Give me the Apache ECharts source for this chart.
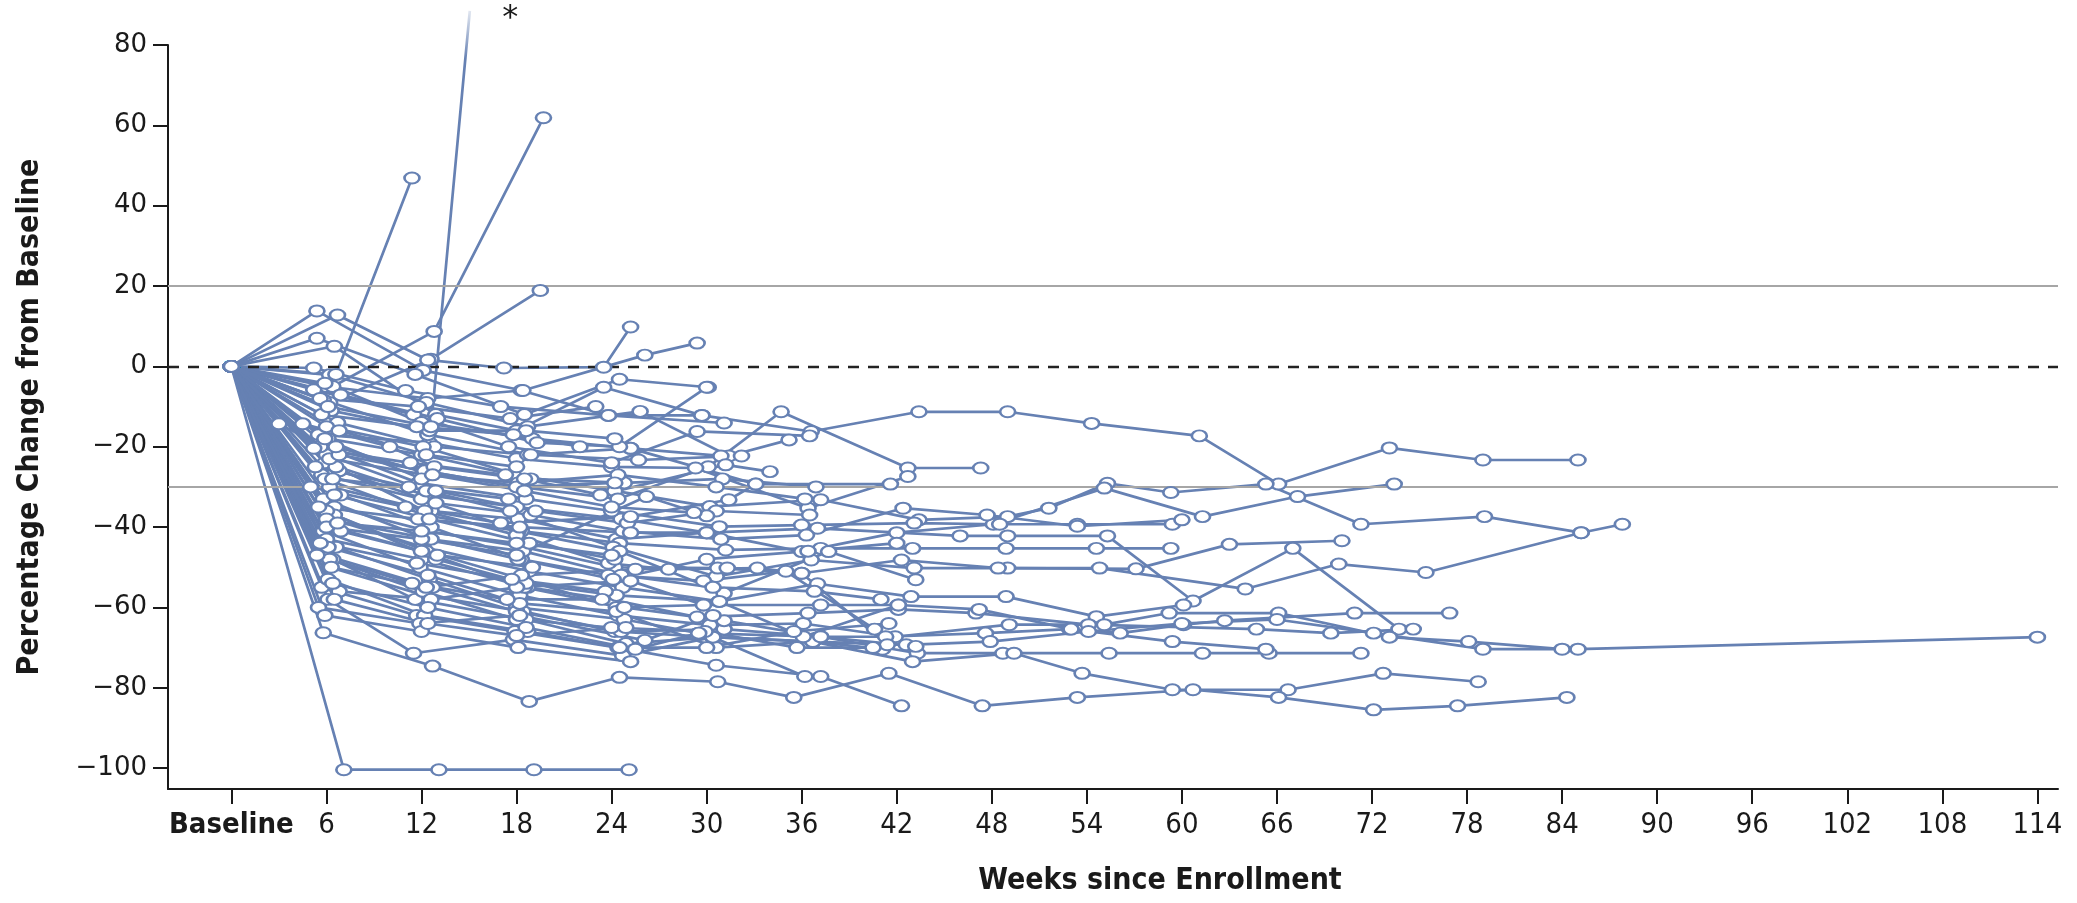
<!DOCTYPE html>
<html><head><meta charset="utf-8">
<script src="https://cdn.jsdelivr.net/npm/echarts@6/dist/echarts.min.js"></script>
<style>html,body{margin:0;padding:0;background:#fff}#c{width:2077px;height:903px}</style>
</head><body><div id="c"></div>
<script>
// ---- tick labels / reference values ----
const xTickWeeks = [0,6,12,18,24,30,36,42,48,54,60,66,72,78,84,90,96,102,108,114];
const yTickValues = [-100,-80,-60,-40,-20,0,20,40,60,80];
const solidRefLines = [20, -30];
const dashedRefLines = [0];
const starNote = [17.6, 86.5];
const yTop = 80;

// ---- patient tracks: [week, % change] ----
const longFollowUp = [
  [[0,0],[6.0,-5],[12.4,-8],[18.3,-6],[23.8,-12.2],[29.7,-12.2],[36.6,-16.2],[43.4,-11.3],[49.0,-11.3],[54.3,-14.2],[61.1,-17.3],[66.1,-29.3],[73.1,-20.3],[79.0,-23.3],[85.0,-23.3]],
  [[0,0],[6.1,-18],[12.0,-22],[17.8,-27],[24.2,-31],[30.2,-34.9],[37.2,-33.2],[43.4,-38.2],[49.0,-37.4],[51.6,-35.3],[55.3,-29.1],[59.3,-31.4],[65.3,-29.3],[71.3,-39.3],[79.1,-37.4],[85.2,-41.4],[87.8,-39.3]],
  [[0,0],[5.9,-24],[12.2,-32],[18.0,-35],[24.6,-38],[30.0,-41.4],[36.0,-46.1],[42.0,-41.4],[48.1,-39.3],[55.1,-30.3],[61.3,-37.4],[67.3,-32.4],[73.4,-29.3]],
  [[0,0],[6.4,-21],[11.8,-29],[18.6,-33],[24.0,-36],[30.8,-39.9],[36.0,-39.5],[43.1,-39.0],[48.5,-39.3],[53.4,-39.3],[59.4,-39.3]],
  [[0,0],[6.2,-30],[12.6,-36],[18.1,-38],[24.3,-43],[30.0,-41.4],[37.0,-40.3],[46.0,-42.2],[49.0,-42.2],[55.3,-42.2],[60.7,-58.4],[67.0,-45.3],[73.7,-65.4]],
  [[0,0],[5.7,-27],[12.0,-33],[18.3,-41],[24.5,-44],[31.2,-45.7],[37.2,-45.3],[43.0,-45.3],[48.9,-45.3],[54.6,-45.3],[59.3,-45.3]],
  [[0,0],[6.0,-22],[12.3,-31],[17.6,-36],[24.1,-45],[30.6,-52.3],[36.6,-48.2],[43.1,-50.2],[49.0,-50.2],[57.1,-50.4],[63.0,-44.3],[70.1,-43.4]],
  [[0,0],[6.5,-35],[12.4,-41],[18.5,-45],[24.2,-50],[30.7,-50.2],[36.0,-51.5],[42.3,-48.2],[48.4,-50.2],[54.8,-50.2],[64.0,-55.4],[69.9,-49.2],[75.4,-51.3],[85.2,-41.4]],
  [[0,0],[6.3,-38],[12.1,-45],[18.8,-51],[24.7,-55],[30.8,-58.5],[37.0,-54.1],[42.9,-57.3],[48.9,-57.3],[54.6,-62.3],[60.1,-59.4]],
  [[0,0],[5.8,-41],[11.9,-50],[18.2,-57],[24.4,-62],[30.2,-64.4],[36.1,-64.0],[41.9,-67.3],[49.1,-64.3],[55.1,-64.3],[59.2,-61.4],[66.1,-61.4],[73.1,-67.4],[78.1,-68.5],[84.0,-70.4]],
  [[0,0],[6.6,-45],[12.5,-53],[18.0,-60],[24.8,-63],[29.5,-66.4],[37.2,-67.3],[41.3,-67.3],[47.6,-66.4],[52.9,-65.4],[56.1,-66.4],[60.1,-64.3],[62.7,-63.3],[70.9,-61.4],[76.9,-61.4]],
  [[0,0],[6.0,-43],[12.0,-48],[18.7,-55],[23.9,-58],[29.4,-62.4],[36.4,-61.4],[42.1,-60.5],[47.0,-61.4],[54.1,-64.3],[64.7,-65.4],[69.4,-66.4],[74.6,-65.4]],
  [[0,0],[6.2,-50],[12.2,-57],[18.4,-61],[24.2,-66],[30.4,-67.4],[36.7,-68.5],[42.6,-69.3],[47.9,-68.5],[54.1,-66.0],[60.0,-64.0],[66.0,-63.0],[72.1,-66.4],[79.0,-70.4],[85.0,-70.4],[114.0,-67.4]],
  [[0,0],[5.9,-47],[12.7,-55],[18.0,-61],[24.6,-66],[31.1,-65.4],[37.2,-67.3],[43.3,-71.4],[48.7,-71.4],[55.4,-71.4],[61.3,-71.4],[65.5,-71.4],[71.3,-71.4]],
  [[0,0],[6.4,-48],[11.6,-58],[18.6,-63],[24.9,-69],[30.4,-67.4],[36.7,-68.5],[43.0,-73.5],[49.4,-71.4],[53.7,-76.4],[59.4,-80.5],[66.7,-80.5],[72.7,-76.4],[78.7,-78.5]],
  [[0,0],[5.8,-66.3],[12.7,-74.6],[18.8,-83.4],[24.5,-77.4],[30.7,-78.5],[35.5,-82.4],[41.5,-76.4],[47.4,-84.5],[53.4,-82.4],[60.7,-80.5],[66.1,-82.4],[72.1,-85.5],[77.4,-84.5],[84.3,-82.4]],
  [[0,0],[6.5,-37],[12.3,-46],[18.4,-53],[24.3,-60],[29.8,-59.4],[37.2,-59.4],[42.1,-59.4],[47.2,-60.5],[53.0,-65.4],[59.4,-68.5],[65.3,-70.4]],
  [[0,0],[6.8,-26],[12.9,-34],[18.9,-37],[24.7,-41],[30.9,-43],[36.3,-42],[42.4,-35.3],[47.7,-37],[53.4,-39.8],[60.0,-38.2]]
];

const midFollowUp = [
  [[0,0],[5.6,-20],[12.1,-26],[18.2,-30],[24.4,-33],[30.1,-25],[34.7,-11.3],[42.7,-25.3],[47.3,-25.3]],
  [[0,0],[5.5,-17],[12.5,-19],[18.0,-23],[24.0,-25],[29.3,-25.3],[36.4,-35.3],[42.7,-27.4]],
  [[0,0],[6.7,-14],[12.8,-20],[18.7,-22],[25.2,-20.4],[33.1,-29.3],[41.6,-29.3]],
  [[0,0],[6.1,-45],[12.4,-52],[18.2,-59],[24.3,-61],[30.6,-70],[36.7,-68.5],[41.1,-70.4]],
  [[0,0],[6.9,-32],[12.6,-40],[18.3,-48],[23.8,-52],[29.8,-53.4],[35.0,-51],[40.6,-65.4]],
  [[0,0],[5.9,-28],[12.2,-37],[18.1,-41],[24.5,-46],[31.1,-56.5],[37.7,-46.1],[43.2,-53.1]],
  [[0,0],[6.3,-40],[12.0,-46],[18.5,-55],[24.8,-60],[31.1,-63.3],[37.2,-67.3],[43.2,-69.7]],
  [[0,0],[6.0,-36],[12.9,-48],[18.6,-54],[24.3,-57],[30.8,-58.5],[36.1,-67.3],[42.1,-59.4]],
  [[0,0],[6.6,-25],[12.2,-36],[18.0,-42],[23.8,-49],[27.6,-50.5],[33.2,-50.2],[36.0,-51.5],[41.4,-69.3]],
  [[0,0],[5.7,-55],[11.7,-62],[17.9,-66],[24.4,-70],[30.6,-74.4],[37.2,-77.2],[42.3,-84.5]],
  [[0,0],[6.1,-58],[11.5,-71.4],[17.8,-68],[24.7,-72],[30.4,-67.4],[36.2,-77.2]],
  [[0,0],[6.2,-48],[12.1,-56],[18.0,-63],[24.0,-65],[29.9,-66],[35.7,-70],[40.5,-70]],
  [[0,0],[6.0,-15],[12.1,-20],[18.9,-28],[24.8,-29],[31.0,-28],[36.9,-30]],
  [[0,0],[6.4,-28],[12.9,-31],[19.2,-36],[25.0,-39],[30.6,-36],[36.5,-37]],
  [[0,0],[5.8,-33],[12.4,-43],[18.4,-46],[24.6,-52],[30.4,-55],[36.8,-56],[41.0,-58]],
  [[0,0],[6.1,-53],[12.2,-62],[18.7,-66],[24.5,-70],[30.0,-70],[35.5,-66],[41.5,-64]],
  [[0,0],[6.2,-23],[12.3,-27],[18.1,-29],[24.4,-27],[30.6,-30],[36.2,-33]],
  [[0,0],[6.0,-38],[12.6,-43],[18.1,-48],[24.1,-53],[30.0,-48],[36.4,-46],[42.0,-44]],
  [[0,0],[6.2,-2.1],[12.3,-9],[18.7,-15],[25.8,-11.2],[31.4,-22.3],[35.2,-18.3]],
  [[0,0],[5.2,-5.8],[11.5,-12],[17.5,-20],[24.0,-24],[29.4,-16.2],[36.5,-17.3]],
  [[0,0],[5.0,-30],[11.0,-35],[17.0,-39],[25.2,-37.4],[31.4,-33.2],[33.1,-29.3]]
];

const earlyTop = [
  [[0,0],[6.6,-2],[11.4,46.9]],
  [[0,0],[6.4,-5],[12.8,8.7],[19.7,61.9]],
  [[0,0],[6.2,-9],[12.6,1.8],[19.5,18.9]],
  [[0,0],[6.7,12.8],[12.4,1.6],[17.2,-0.4],[23.5,-0.2],[25.2,9.8]],
  [[0,0],[5.4,13.8],[12.1,-1],[18.4,-6],[26.1,2.8],[29.4,5.8]],
  [[0,0],[5.4,7.0],[11.6,-2],[18.5,-12],[24.5,-3.2],[30.1,-5.2]],
  [[0,0],[6.5,5.0],[12.9,-12],[18.0,-16],[23.5,-5.2],[29.7,-12.2]],
  [[0,0],[5.2,-0.4],[11.0,-6],[17.0,-10],[23.8,-12.2],[31.1,-14.1]],
  [[0,0],[5.9,-4.2],[12.0,-14],[19.0,-18],[25.2,-20.4],[30.9,-22.3]],
  [[0,0],[5.8,-8.3],[12.4,-17],[18.9,-22],[25.7,-23.3],[32.2,-22.3]],
  [[0,0],[6.9,-7.1],[13.0,-13],[19.3,-19],[24.5,-20],[30.0,-5.2]],
  [[0,0],[3.0,-14.3],[6.8,-22],[12.2,-26],[18.0,-30],[24.2,-29]],
  [[0,0],[4.5,-14.3],[10.0,-20],[12.8,-25],[18.5,-28]],
  [[0,0],[5.2,-20.4],[11.3,-24],[17.3,-27],[23.3,-32],[31.2,-24.5],[34.0,-26.2]],
  [[0,0],[6.3,-11],[12.5,-16],[18.6,-16],[24.2,-18]],
  [[0,0],[5.9,-18],[12.0,-28]],
  [[0,0],[5.6,-8],[11.8,-10],[17.6,-13],[23.0,-10]],
  [[0,0],[5.7,-12],[11.7,-15],[17.8,-17],[22.0,-20]],
  [[0,0],[6.8,-16],[12.3,-22],[18.0,-25]]
];

// off-scale progressor (marked with *)
const offScaleTrack = [[0,0],[6.1,-10],[12.6,-15],[15.05,88.5]];

const earlyDense = [
  [[0,0],[6.0,-40],[12.0,-43],[18.0,-47],[26.2,-32.4],[30.0,-37.2]],
  [[0,0],[5.5,-35],[11.8,-38],[18.2,-40],[25.2,-41.4],[30.0,-41.4]],
  [[0,0],[6.3,-50],[12.3,-55],[18.3,-52],[25.5,-50.5],[31.3,-50.2]],
  [[0,0],[6.8,-56],[12.6,-58],[18.0,-55],[25.2,-53.4],[29.8,-59.4]],
  [[0,0],[5.5,-60],[11.9,-64],[18.2,-62],[26.1,-68.2],[30.4,-62]],
  [[0,0],[6.4,-54],[12.4,-60],[18.6,-65],[25.5,-70.4],[29.5,-66.4]],
  [[0,0],[5.9,-62],[12.0,-66],[18.1,-70],[25.2,-73.5]],
  [[0,0],[6.6,-20],[12.7,-27],[18.5,-31],[24.0,-35],[29.2,-36.4]],
  [[0,0],[5.3,-25],[11.2,-30],[17.5,-33]],
  [[0,0],[6.5,-32],[12.5,-38],[18.8,-44],[24.2,-48]],
  [[0,0],[5.6,-44],[11.7,-49],[17.7,-53],[23.6,-56]],
  [[0,0],[6.9,-41],[13.0,-47],[19.0,-50]],
  [[0,0],[6.7,-39],[12.0,-41],[18.0,-44],[24.0,-47]],
  [[0,0],[5.4,-47],[11.4,-54],[17.4,-58],[23.4,-58]],
  [[0,0],[6.5,-58],[12.4,-64],[18.0,-67],[24.9,-65]],
  [[0,0],[7.1,-100.4],[13.1,-100.4],[19.1,-100.4],[25.1,-100.4]]
];

// ---- styling ----
const LINE = '#6681B3';
const condensed = "'DejaVu Sans Condensed','Liberation Sans Narrow','Roboto Condensed','DejaVu Sans',sans-serif";
const LW = 2.7;

const tracks = [].concat(longFollowUp, midFollowUp, earlyTop, earlyDense);
const series = [];

series.push({
  type: 'line', data: [], silent: true, z: 1,
  markLine: {
    silent: true, symbol: 'none', label: {show: false}, animation: false,
    data: solidRefLines.map(v => ({yAxis: v, lineStyle: {color: '#A6A6A6', width: 2, type: 'solid'}}))
      .concat(dashedRefLines.map(v => ({yAxis: v, lineStyle: {color: '#222', width: 2.4, type: [11, 9]}})))
  }
});

tracks.forEach(t => series.push({
  type: 'line', data: t, showSymbol: false, symbol: 'none', silent: true, z: 2,
  lineStyle: {color: LINE, width: LW}, animation: false
}));

series.push({
  type: 'line', data: offScaleTrack, showSymbol: false, symbol: 'none', silent: true, z: 2, clip: false,
  lineStyle: {width: LW, color: {type: 'linear', x: 0, y: 0, x2: 0, y2: 1, colorStops: [
    {offset: 0, color: 'rgba(102,129,179,0.15)'}, {offset: 0.12, color: LINE}, {offset: 1, color: LINE}]}},
  animation: false
});

const pts = [];
tracks.concat([offScaleTrack]).forEach(t => t.forEach(p => { if (p[1] <= yTop) pts.push(p); }));
series.push({
  type: 'scatter', data: pts, symbol: 'circle', symbolSize: [15, 11], silent: true, z: 5,
  itemStyle: {color: '#fff', borderColor: LINE, borderWidth: 2.3, opacity: 1}, animation: false
});

const chart = echarts.init(document.getElementById('c'), null, {renderer: 'canvas'});
chart.setOption({
  backgroundColor: '#fff',
  animation: false,
  grid: {left: 168, right: 19, top: 45, bottom: 114, containLabel: false},
  xAxis: {
    type: 'value', min: -4, max: 115.3,
    axisLine: {show: true, onZero: false, lineStyle: {color: '#1a1a1a', width: 2}},
    axisTick: {show: true, customValues: xTickWeeks, length: 15, lineStyle: {color: '#1a1a1a', width: 2}},
    axisLabel: {
      customValues: xTickWeeks, margin: 22, color: '#1a1a1a', fontSize: 29, fontFamily: condensed,
      formatter: v => v === 0 ? '{b|Baseline}' : String(v),
      rich: {b: {fontWeight: 'bold', fontSize: 29, fontFamily: condensed, color: '#1a1a1a'}}
    },
    splitLine: {show: false}
  },
  yAxis: {
    type: 'value', min: -105.2, max: yTop,
    axisLine: {show: true, onZero: false, lineStyle: {color: '#1a1a1a', width: 2}},
    axisTick: {show: true, customValues: yTickValues, length: 15, lineStyle: {color: '#1a1a1a', width: 2}},
    axisLabel: {customValues: yTickValues, margin: 21, color: '#1a1a1a', fontSize: 26, fontFamily: "'DejaVu Sans',sans-serif",
      formatter: v => v < 0 ? '\u2212' + Math.abs(v) : String(v)},
    splitLine: {show: false}
  },
  series: series
});

const sp = chart.convertToPixel({gridIndex: 0}, starNote);
chart.setOption({
  graphic: [
    {type: 'text', x: sp[0], y: sp[1], silent: true,
     style: {text: '*', font: "32px 'DejaVu Sans',sans-serif", fill: '#1a1a1a', textAlign: 'center', textVerticalAlign: 'middle'}},
    {type: 'text', x: 1160, y: 881, silent: true,
     style: {text: 'Weeks since Enrollment', font: "bold 30px " + condensed, fill: '#1a1a1a', textAlign: 'center', textVerticalAlign: 'middle'}},
    {type: 'text', x: 30, y: 417, rotation: Math.PI / 2, silent: true,
     style: {text: 'Percentage Change from Baseline', font: "bold 30px " + condensed, fill: '#1a1a1a', textAlign: 'center', textVerticalAlign: 'middle'}}
  ]
});
</script>
</body></html>
